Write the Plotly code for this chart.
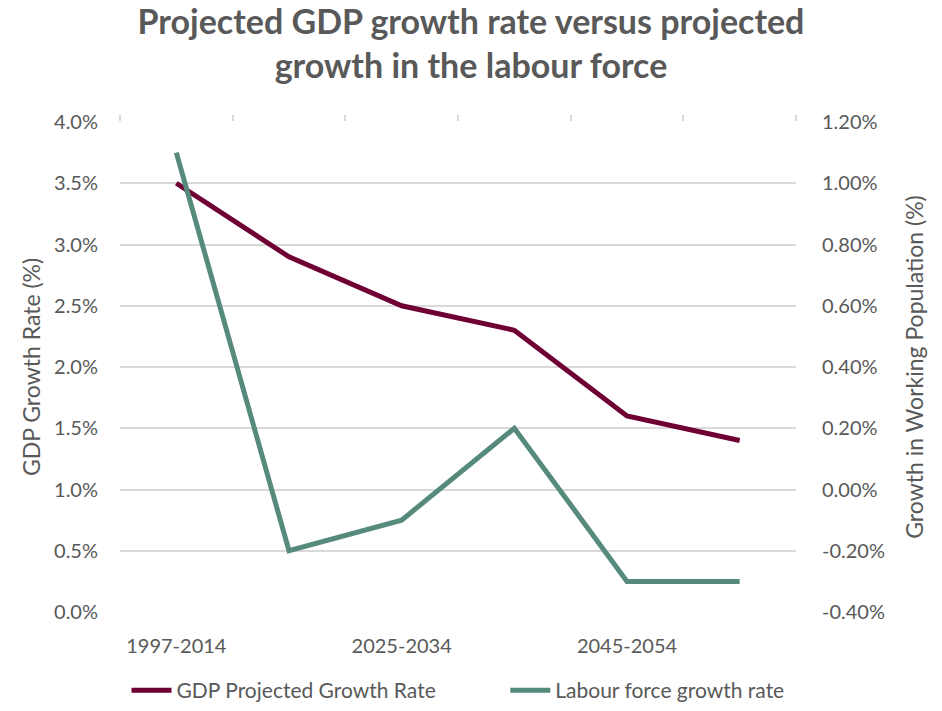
import plotly.graph_objects as go

categories = ["1997-2014", "2015-2024", "2025-2034", "2035-2044", "2045-2054", "2055-2064"]
gdp_growth = [3.5, 2.9, 2.5, 2.3, 1.6, 1.4]
labour_growth = [1.10, -0.20, -0.10, 0.20, -0.30, -0.30]
left_ticks = [0, 0.5, 1.0, 1.5, 2.0, 2.5, 3.0, 3.5, 4.0]
right_ticks = [-0.4, -0.2, 0.0, 0.2, 0.4, 0.6, 0.8, 1.0, 1.2]
shown_labels = ["1997-2014", "2025-2034", "2045-2054"]

idx = list(range(len(categories)))
label_pos = [categories.index(c) for c in shown_labels]

FONT = "Lato"
GRAY = "#595959"
GRID = "#d9d9d9"

fig = go.Figure()
fig.add_trace(go.Scatter(x=idx, y=gdp_growth, mode="lines",
                         name="GDP Projected Growth Rate" + "\u00a0" * 12,
                         line=dict(color="#6e0034", width=5)))
fig.add_trace(go.Scatter(x=idx, y=labour_growth, mode="lines", name="Labour force growth rate",
                         line=dict(color="#558a7c", width=5), yaxis="y2"))
# invisible trace to anchor the top tick axis
fig.add_trace(go.Scatter(x=idx, y=gdp_growth, mode="lines", xaxis="x2", showlegend=False,
                         line=dict(width=0), hoverinfo="skip", opacity=0))

boundaries = [i - 0.5 for i in range(len(categories) + 1)]

fig.update_layout(
    width=942, height=711,
    margin=dict(l=120, r=146, t=122, b=99, autoexpand=False),
    paper_bgcolor="white", plot_bgcolor="white",
    font=dict(family=FONT, color=GRAY, size=20),
    title=dict(text="<b>Projected GDP growth rate versus projected<br>growth in the labour force</b>",
               x=0.5, xanchor="center", y=0.952, yanchor="middle",
               font=dict(size=34, color=GRAY, family=FONT)),
    xaxis=dict(range=[-0.5, len(categories) - 0.5], tickmode="array", tickvals=label_pos,
               ticktext=shown_labels, showgrid=False, zeroline=False, showline=False,
               ticks="", tickfont=dict(size=20, color=GRAY), ticklabelstandoff=20),
    xaxis2=dict(range=[-0.5, len(categories) - 0.5], overlaying="x", side="top", anchor="y",
                tickmode="array", tickvals=boundaries, showticklabels=False, ticks="outside",
                ticklen=6, tickcolor=GRID, tickwidth=1.5, showline=False, showgrid=False,
                zeroline=False),
    yaxis=dict(range=[0, 4.0], tickmode="array", tickvals=left_ticks,
               ticktext=[f"{v:.1f}%" for v in left_ticks], showgrid=True, gridcolor=GRID,
               gridwidth=1.5, zeroline=False, showline=False,
               title=dict(text="GDP Growth Rate (%)", font=dict(size=23, color=GRAY), standoff=6),
               ticklabelstandoff=21),
    yaxis2=dict(range=[-0.4, 1.2], overlaying="y", side="right", tickmode="array",
                tickvals=right_ticks, ticktext=[f"{v:.2f}%" for v in right_ticks],
                showgrid=False, zeroline=False, showline=False,
                title=dict(text="Growth in Working Population (%)", font=dict(size=23, color=GRAY), standoff=22),
                ticklabelstandoff=25),
    legend=dict(orientation="h", x=0.5, xanchor="center", yref="container", y=0.0, yanchor="bottom",
                font=dict(size=21, color=GRAY), itemwidth=40, tracegroupgap=0),
    showlegend=True,
)

fig.write_html("out.html")
